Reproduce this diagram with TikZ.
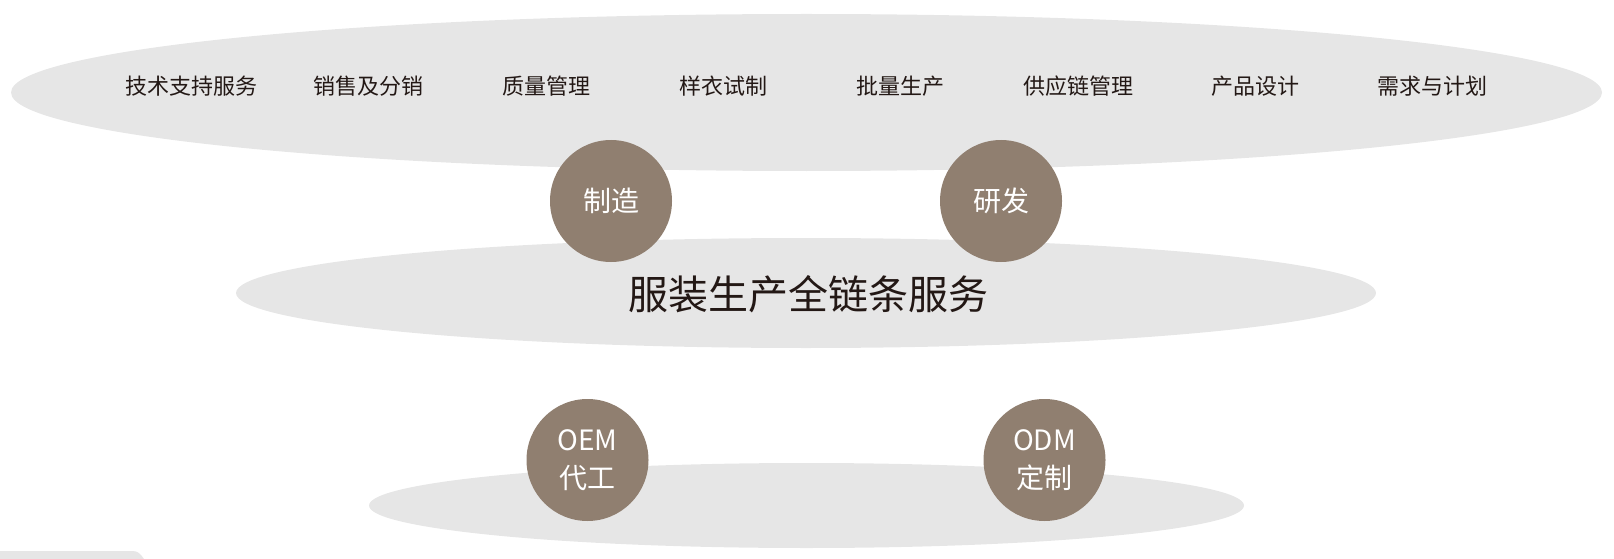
\documentclass[tikz,border=0pt]{standalone}
\usepackage{fontspec}
\newfontfamily\cjk{Noto Sans CJK SC}
\usepackage{tikz}
\usetikzlibrary{shapes.geometric, positioning}
\definecolor{bandgray}{HTML}{E6E6E6}
\definecolor{hubbrown}{HTML}{907F70}
\definecolor{inkdark}{HTML}{231815}
\tikzset{
  band/.style={ellipse, fill=bandgray, inner sep=0pt},
  hub/.style ={circle, fill=hubbrown, minimum size=122pt, inner sep=0pt, align=center, text=white, font=\cjk\fontsize{28pt}{38pt}\selectfont},
  itm/.style ={text=inkdark, font=\cjk\fontsize{22pt}{26pt}\selectfont},
  ttl/.style ={text=inkdark, font=\cjk\fontsize{40pt}{48pt}\selectfont},
}
\begin{document}
\begin{tikzpicture}[x=1pt, y=-1pt]
  \useasboundingbox (0,0) rectangle (1614,559);
  % three grey bands
  \node[band, minimum width=1591pt, minimum height=157pt] (top) at (806.5,92.5) {};
  \node[band, minimum width=1140pt, minimum height=110pt] (mid) at (806,293) {};
  \node[band, minimum width=875pt, minimum height=85pt] (bot) at (806.5,505.5) {};
  \fill[bandgray] (0,551) -- (133,551) to[out=0,in=125] (144,559) -- (0,559) -- cycle;
  \foreach \t [count=\i from 0] in {技术支持服务,销售及分销,质量管理,样衣试制,批量生产,供应链管理,产品设计,需求与计划}
    \node[itm] (it\i) at ({191.5+177.3*\i},86.5) {\t};
  \node[ttl] (title) at (808,294) {服装生产全链条服务};
  % circles
  \node[hub] (mfg) at (611,201) {制造};
  \node[hub] (rnd) at (1001,201) {研发};
  \node[hub] (oem) at (587.5,460) {OEM\\代工};
  \node[hub] (odm) at (1044.5,460) {ODM\\定制};
\end{tikzpicture}
\end{document}
